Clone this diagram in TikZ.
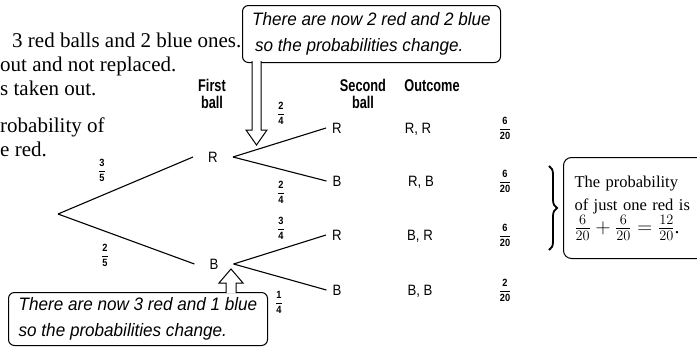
\documentclass[tikz,border=0pt]{standalone}
\usepackage{amsmath}
\usepackage{fontspec}
\setmainfont{Liberation Serif}
\newfontfamily\gothic[FakeStretch=0.88]{Liberation Sans}
\newfontfamily\gothichead[FakeStretch=0.75]{Liberation Sans}
\newfontfamily\gothicnote[FakeStretch=0.95]{Liberation Sans}
\usetikzlibrary{positioning,calc,decorations.pathreplacing}

\newcommand\brfrac[2]{$\dfrac{\mbox{#1}}{\mbox{#2}}$}

\begin{document}
\begin{tikzpicture}[
  x=1pt,y=-1pt,
  serif/.style={font=\fontsize{21}{24}\selectfont,anchor=base west,inner sep=0pt},
  ball/.style={font=\gothic\fontsize{15}{16}\selectfont,text height=11pt,text depth=0pt,inner ysep=1pt},
  head/.style={font=\gothichead\bfseries\fontsize{17}{17}\selectfont,align=center,inner sep=0pt},
  prob/.style={font=\gothic\bfseries\fontsize{10.5}{10.5}\selectfont,inner sep=0pt},
  note/.style={draw,rounded corners=6pt,line width=1pt,align=left,anchor=north west,
    font=\gothicnote\itshape\fontsize{18}{26}\selectfont},
  branch/.style={line width=1.1pt},
  blockarr/.style={line width=1pt,fill=white}
]
\useasboundingbox (0,0) rectangle (697,346);
\clip (0,0) rectangle (697,346);

% question text, cut at the left edge
\node[serif] (intro a) at (12,47) {3 red balls and 2 blue ones.};
\node[serif] (intro b) at (0,71) {out and not replaced.};
\node[serif] (intro c) at (0,95) {s taken out.};
\node[serif] (task a) at (0,132) {robability of};
\node[serif] (task b) at (0,156) {e red.};

% column heads
\node[head] (first head) at (212,94) {First\\ball};
\node[head] (second head) at (363,94) {Second\\ball};
\node[head] (outcome head) at (432,86) {Outcome};

% tree
\coordinate (start) at (58,214);
\node[ball,inner xsep=15pt] (first r) at (213,157) {R};
\node[ball,inner xsep=15pt] (first b) at (214,264) {B};
\node[ball,inner xsep=6pt] (rr) at (337,128) {R};
\node[ball,inner xsep=6pt] (rb) at (337,181) {B};
\node[ball,inner xsep=6pt] (br) at (337,235) {R};
\node[ball,inner xsep=6pt] (bb) at (337,290) {B};

\draw[branch] (start) -- (first r.west);
\draw[branch] (start) -- (first b.west);
\draw[branch] (first r.east) -- (rr.west);
\draw[branch] (first r.east) -- (rb.west);
\draw[branch] (first b.east) -- (br.west);
\draw[branch] (first b.east) -- (bb.west);

\node[prob] (p r) at (102,170) {\brfrac{3}{5}};
\node[prob] (p b) at (105,255) {\brfrac{2}{5}};
\node[prob] (p rr) at (281,113) {\brfrac{2}{4}};
\node[prob] (p rb) at (281,192) {\brfrac{2}{4}};
\node[prob] (p br) at (281,228) {\brfrac{3}{4}};
\node[prob] (p bb) at (279,302) {\brfrac{1}{4}};

% outcomes
\node[ball] (out rr) at (418,128) {R, R};
\node[ball] (out rb) at (421,181) {R, B};
\node[ball] (out br) at (420,235) {B, R};
\node[ball] (out bb) at (420,290) {B, B};
\node[prob] (f rr) at (505,128) {\brfrac{6}{20}};
\node[prob] (f rb) at (505,181) {\brfrac{6}{20}};
\node[prob] (f br) at (505,235) {\brfrac{6}{20}};
\node[prob] (f bb) at (505,290) {\brfrac{2}{20}};

\coordinate (brace top) at (549,166);
\coordinate (brace bot) at (549,250);
\draw[line width=1.8pt,decorate,decoration={brace,amplitude=8pt}] (brace top) -- (brace bot);

\node[draw,rounded corners=8pt,line width=1pt,anchor=north west,minimum height=101pt,
  text width=130pt,inner xsep=11pt,align=left,font=\fontsize{16.5}{23}\selectfont]
  (sum box) at (563,157) {The probability\\of just one red is\\{\fontsize{20}{23}\selectfont$\frac{6}{20}+\frac{6}{20}=\frac{12}{20}$.}};

% callouts
\node[note,minimum width=258pt,minimum height=57pt] (top note) at (242,5)
  {There are now 2 red and 2 blue\\\hspace*{3pt}so the probabilities change.};
\node[note,minimum width=259pt,minimum height=53pt] (bottom note) at (8,292)
  {There are now 3 red and 1 blue\\so the probabilities change.};

\draw[blockarr] (252,61) -- (252,130) -- (246,130) -- (256.5,145) -- (267,130) -- (261,130) -- (261,61);
\draw[blockarr] (226,293) -- (226,283) -- (219,283) -- (231,269) -- (243,283) -- (236,283) -- (236,293);
\end{tikzpicture}
\end{document}
